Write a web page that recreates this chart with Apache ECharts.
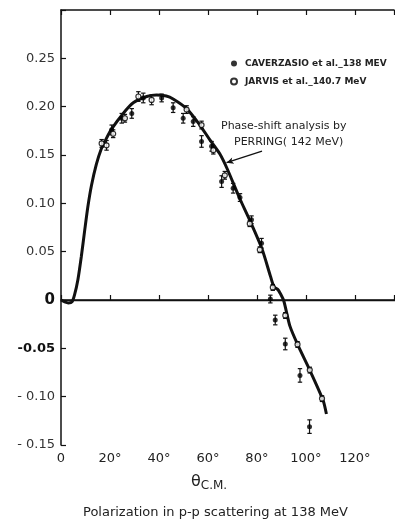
<!DOCTYPE html>
<html>
<head>
<meta charset="utf-8">
<script src="https://cdn.jsdelivr.net/npm/echarts@6/dist/echarts.min.js"></script>
<style>html,body{margin:0;padding:0;background:#fff}#c{width:395px;height:525px}</style>
</head>
<body>
<div id="c"></div>
<script>
// ---- data ----
const xTicks = [0, 20, 40, 60, 80, 100, 120];
const yTicks = [-0.15, -0.10, -0.05, 0, 0.05, 0.10, 0.15, 0.20, 0.25];
// Phase-shift analysis by Perring (142 MeV): [theta, P]
const perringCurve = [
  [0,0],[1.5,-0.002],[3,-0.003],[4.5,-0.002],[5.5,0.005],[6.9,0.021],[8.3,0.045],[9.7,0.0725],
  [11,0.097],[12.4,0.118],[14.4,0.140],[16.4,0.156],[18.5,0.167],[20.7,0.177],[25.4,0.193],
  [29.5,0.204],[35,0.2105],[39,0.212],[43,0.211],[45.8,0.208],[51.3,0.198],[56.7,0.181],
  [60.8,0.1656],[64.9,0.151],[68,0.135],[73,0.105],[77,0.083],[82,0.0535],[85.5,0.025],
  [87,0.0135],[88.5,0.011],[89.5,0.007],[91,-0.001],[93.5,-0.027],[97,-0.048],[101.6,-0.0725],
  [107,-0.1035],[108.4,-0.118]
];
// Caverzasio et al. 138 MeV: [theta, P, error]
const caverzasio = [
  [20.7,0.176,0.005],[24.8,0.188,0.005],[28.9,0.193,0.005],[33.6,0.209,0.005],[41.1,0.209,0.004],
  [45.8,0.199,0.005],[49.9,0.188,0.005],[54.0,0.1846,0.005],[57.4,0.164,0.006],[61.5,0.159,0.005],
  [65.6,0.1225,0.006],[70.3,0.1156,0.005],[73.1,0.106,0.004],[77.8,0.083,0.004],[81.9,0.0587,0.005],
  [85.5,0.001,0.004],[87.5,-0.0207,0.005],[91.6,-0.0455,0.006],[97.6,-0.078,0.007],[101.5,-0.131,0.007]
];
// Jarvis et al. 140.7 MeV: [theta, P, error]
const jarvis = [
  [16.6,0.162,0.004],[18.6,0.160,0.005],[21.3,0.172,0.004],[26.1,0.188,0.004],[31.6,0.2105,0.005],
  [37.0,0.207,0.005],[51.3,0.197,0.004],[57.4,0.181,0.004],[62.2,0.155,0.004],[66.9,0.129,0.004],
  [77.1,0.079,0.003],[81.2,0.052,0.003],[86.5,0.013,0.003],[91.6,-0.016,0.003],[96.6,-0.046,0.003],
  [101.6,-0.0725,0.003],[106.6,-0.102,0.003]
];
const arrowFrom = [82.1, 0.154];
const arrowTo = [67.6, 0.142];

const FONT = 'DejaVu Sans';
function errRender(params, api) {
  const x = api.value(0), y = api.value(1), e = api.value(2);
  const top = api.coord([x, y + e]);
  const bot = api.coord([x, y - e]);
  const cap = 2.2;
  const st = {stroke: '#111', lineWidth: 1.2};
  return {type: 'group', children: [
    {type: 'line', shape: {x1: top[0], y1: top[1], x2: bot[0], y2: bot[1]}, style: st},
    {type: 'line', shape: {x1: top[0]-cap, y1: top[1], x2: top[0]+cap, y2: top[1]}, style: st},
    {type: 'line', shape: {x1: bot[0]-cap, y1: bot[1], x2: bot[0]+cap, y2: bot[1]}, style: st}
  ]};
}
function yLabel(v) {
  const r = Math.round(v * 100) / 100;
  if (r === 0) return '{z|0}';
  if (Math.abs(r + 0.05) < 1e-9) return '{b|-0.05}';
  if (r > 0.26) return '';
  if (r < 0) return '- ' + Math.abs(r).toFixed(2);
  return r.toFixed(2);
}
const chart = echarts.init(document.getElementById('c'), null, {renderer: 'canvas'});
chart.setOption({
  backgroundColor: '#fff',
  animation: false,
  grid: {left: 61, right: 1, top: 10, bottom: 80, containLabel: false},
  legend: {
    data: ['CAVERZASIO et al._138 MEV', 'JARVIS et al._140.7 MeV'],
    orient: 'vertical', left: 225, top: 54, itemGap: 9,
    itemWidth: 6, itemHeight: 6, icon: 'circle',
    textStyle: {fontFamily: FONT, fontSize: 9, fontWeight: 'bold', color: '#222', padding: [0,0,0,3]}
  },
  xAxis: [{
    type: 'value', min: 0, max: 136, interval: 20, position: 'bottom',
    axisLine: {lineStyle: {color: '#111', width: 1.5}},
    axisTick: {inside: true, length: 5, lineStyle: {color: '#111', width: 1.2}},
    splitLine: {show: false},
    axisLabel: {fontFamily: FONT, fontSize: 13, color: '#222', margin: 7,
      formatter: v => v === 0 ? '0' : v + '°', customValues: xTicks}
  }, {
    type: 'value', min: 0, max: 136, interval: 20, position: 'top',
    axisLine: {show: true, lineStyle: {color: '#111', width: 1.5}},
    axisTick: {inside: true, length: 5, lineStyle: {color: '#111', width: 1.2}},
    axisLabel: {show: false}, splitLine: {show: false}
  }],
  yAxis: {
    type: 'value', min: -0.15, max: 0.30, interval: 0.05,
    axisLine: {show: true, lineStyle: {color: '#111', width: 1.5}},
    axisTick: {show: true, inside: true, length: 5, lineStyle: {color: '#111', width: 1.2}},
    splitLine: {show: false},
    axisLabel: {fontFamily: FONT, fontSize: 13, color: '#333', margin: 6, formatter: yLabel,
      rich: {z: {fontFamily: FONT, fontSize: 15, fontWeight: 'bold', color: '#111'},
             b: {fontFamily: FONT, fontSize: 13, fontWeight: 'bold', color: '#111'}}}
  },
  series: [
    {
      name: 'Perring', type: 'line', data: perringCurve, smooth: 0.25, showSymbol: false,
      lineStyle: {color: '#111', width: 3}, z: 3, silent: true,
      markLine: {
        silent: true, animation: false,
        data: [
          [{yAxis: 0, x: 61, symbol: 'none'}, {yAxis: 0, x: 395, symbol: 'none'}],
          [{coord: arrowFrom, symbol: 'none'}, {coord: arrowTo, symbol: 'arrow', symbolSize: [5, 7]}]
        ],
        lineStyle: {color: '#111', width: 1.3, type: 'solid'},
        label: {show: false}
      }
    },
    {name: 'errC', type: 'custom', renderItem: errRender, data: caverzasio, z: 4, silent: true},
    {name: 'errJ', type: 'custom', renderItem: errRender, data: jarvis, z: 4, silent: true},
    {name: 'CAVERZASIO et al._138 MEV', type: 'scatter', data: caverzasio.map(d => [d[0], d[1]]),
     symbol: 'circle', symbolSize: 5, itemStyle: {color: '#000'}, z: 5},
    {name: 'JARVIS et al._140.7 MeV', type: 'scatter', data: jarvis.map(d => [d[0], d[1]]),
     symbol: 'circle', symbolSize: 5, itemStyle: {color: '#fff', borderColor: '#000', borderWidth: 1.2}, z: 6}
  ],
  graphic: [
    {type: 'text', left: 221, top: 121, style: {text: 'Phase-shift analysis by', fontFamily: FONT, fontSize: 11, fill: '#222'}},
    {type: 'text', left: 234, top: 137, style: {text: 'PERRING( 142 MeV)', fontFamily: FONT, fontSize: 11, fill: '#222'}},
    {type: 'text', left: 191, top: 474, style: {
      text: '{t|θ}{s|C.M.}', fontFamily: FONT,
      rich: {t: {fontSize: 16, fill: '#222', fontFamily: FONT}, s: {fontSize: 12, fill: '#222', fontFamily: FONT, padding: [8,0,0,0]}}}},
    {type: 'text', left: 83, top: 506, style: {text: 'Polarization in p-p scattering at 138 MeV', fontFamily: FONT, fontSize: 13, fill: '#222'}}
  ]
});
</script>
</body>
</html>
